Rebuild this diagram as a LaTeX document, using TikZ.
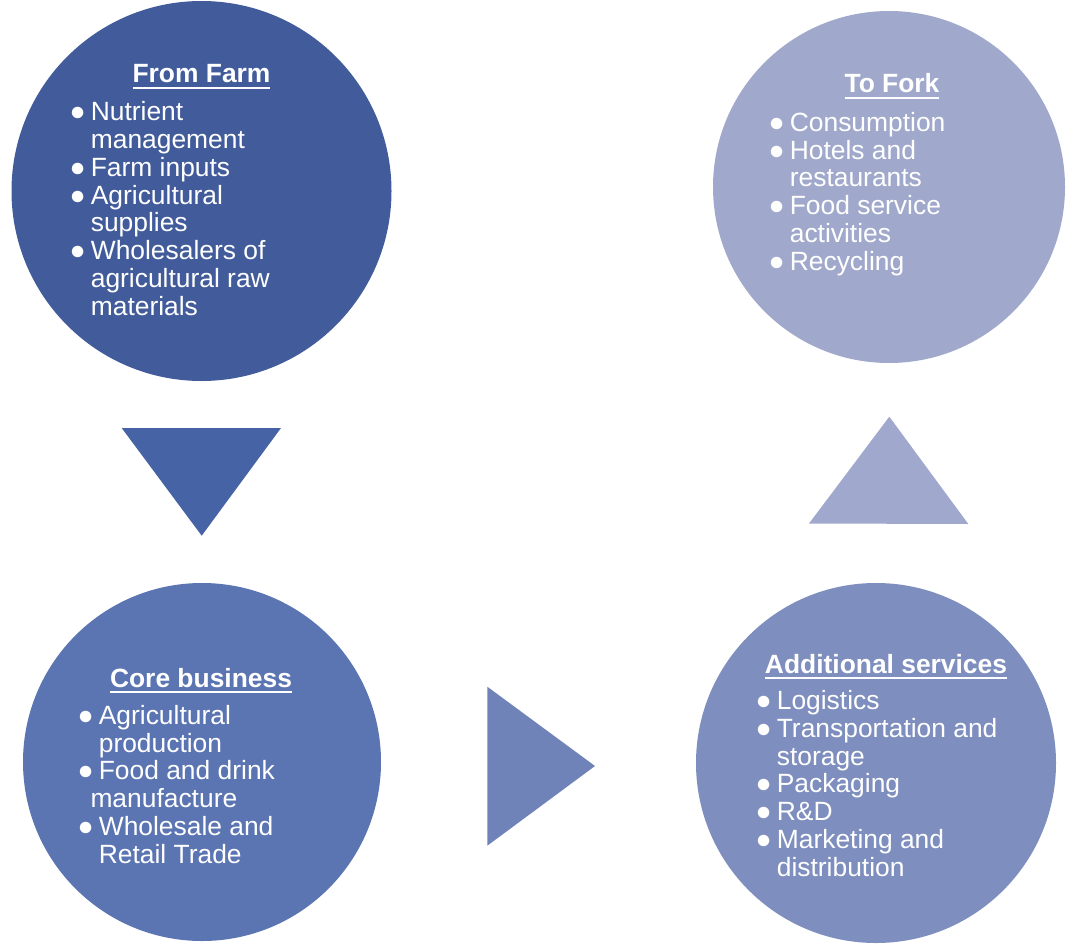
\documentclass[tikz,border=0pt]{standalone}
\usepackage{fontspec}
\setmainfont{Liberation Sans}

\definecolor{farmblue}{RGB}{66,92,155}
\definecolor{downblue}{RGB}{70,99,165}
\definecolor{coreblue}{RGB}{91,116,178}
\definecolor{rightblue}{RGB}{111,131,184}
\definecolor{serviceblue}{RGB}{126,142,190}
\definecolor{upblue}{RGB}{160,168,205}
\definecolor{forkblue}{RGB}{160,169,203}

\newcommand{\bul}{\makebox[16pt][l]{\fontsize{20}{20}\selectfont ●}}
\newcommand{\ind}{\hspace*{16pt}}
\newcommand{\ulbox}[1]{\vtop{\hbox{#1}\kern3pt\hrule height 1.4pt}}

\tikzset{every picture/.style={line width=0.75pt}}
\tikzset{
  disc/.style={circle, draw=none, inner sep=0pt},
  blocktitle/.style={anchor=base, inner sep=0pt, text=white, font=\fontsize{19.8}{20.8}\selectfont\bfseries},
  % anchor at the baseline of the last line
  blocklist/.style={anchor=base west, inner sep=0pt, text=white, align=left, font=\fontsize{19.8}{20.8}\selectfont},
}

\begin{document}
\begin{tikzpicture}[x=0.75pt,y=0.75pt,yscale=-1,xscale=1]
\useasboundingbox (0,0) rectangle (1066,945);

%Shape: Circle
\node [disc, fill=farmblue, minimum size=285pt] (farm) at (201.5,191) {};
%Shape: Circle
\node [disc, fill=forkblue, minimum size=264pt] (fork) at (889,187) {};
%Shape: Circle
\node [disc, fill=coreblue, minimum size=268.5pt] (core) at (202,762) {};
%Shape: Circle
\node [disc, fill=serviceblue, minimum size=270pt] (services) at (876,763) {};

%Shape: Triangle
\fill [downblue] (121.7,428) -- (281,428) -- (201.7,535.7) -- cycle ;
%Shape: Triangle
\fill [rightblue] (487.3,686.7) -- (595,766) -- (487.3,845.7) -- cycle ;
%Shape: Triangle
\fill [upblue] (809,523.5) -- (889.3,416.7) -- (968.3,524) -- cycle ;

% Text Node
\node [blocktitle] (farmtitle) at (201.5,83) {\ulbox{From Farm}};
% Text Node
\node [blocklist] (farmlist) at (69,315) {\bul Nutrient\\ \ind management\\ \bul Farm inputs\\ \bul Agricultural\\ \ind supplies\\ \bul Wholesalers of\\ \ind agricultural raw\\ \ind materials};

% Text Node
\node [blocktitle] (forktitle) at (892,93) {\ulbox{To Fork}};
% Text Node
\node [blocklist] (forklist) at (768,270) {\bul Consumption\\ \bul Hotels and\\ \ind restaurants\\ \bul Food service\\ \ind activities\\ \bul Recycling};

% Text Node
\node [blocktitle] (coretitle) at (201,687) {\ulbox{Core business}};
% Text Node
\node [blocklist] (corelist) at (77,863) {\bul Agricultural\\ \ind production\\ \bul Food and drink\\ \hspace*{9.75pt}manufacture\\ \bul Wholesale and\\ \ind Retail Trade};

% Text Node
\node [blocktitle] (servicestitle) at (886,673) {\ulbox{Additional services}};
% Text Node
\node [blocklist] (serviceslist) at (755,876) {\bul Logistics\\ \bul Transportation and\\ \ind storage\\ \bul Packaging\\ \bul R\&D\\ \bul Marketing and\\ \ind distribution};

\end{tikzpicture}
\end{document}
